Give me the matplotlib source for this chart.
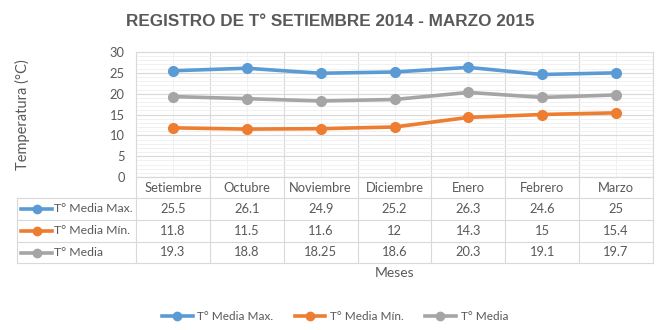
import matplotlib
matplotlib.use("Agg")
import matplotlib.pyplot as plt
from matplotlib.lines import Line2D
import matplotlib.transforms as mtransforms

months = ["Setiembre", "Octubre", "Noviembre", "Diciembre", "Enero", "Febrero", "Marzo"]
series_names = ["T° Media Max.", "T° Media Mín.", "T° Media"]
t_max = [25.5, 26.1, 24.9, 25.2, 26.3, 24.6, 25]
t_min = [11.8, 11.5, 11.6, 12, 14.3, 15, 15.4]
t_med = [19.3, 18.8, 18.25, 18.6, 20.3, 19.1, 19.7]
t_max_lbl = ["25.5", "26.1", "24.9", "25.2", "26.3", "24.6", "25"]
t_min_lbl = ["11.8", "11.5", "11.6", "12", "14.3", "15", "15.4"]
t_med_lbl = ["19.3", "18.8", "18.25", "18.6", "20.3", "19.1", "19.7"]
colors = ["#5B9BD5", "#ED7D31", "#A5A5A5"]

W, H = 671, 330
FONT = "Lato"
TXT = "#595959"
GRID = "#D9D9D9"

fig = plt.figure(figsize=(W / 100, H / 100), dpi=100)

def fx(x):
    return x / W

def fy(y):
    return 1 - y / H

L, R, T, B = 136, 653, 52, 177
ax = fig.add_axes([fx(L), fy(B), (R - L) / W, (B - T) / H])
x = list(range(len(months)))
for vals, c in zip([t_max, t_min, t_med], colors):
    ax.plot(x, vals, color=c, lw=2.6, marker="o", ms=7, zorder=3)
ax.set_xlim(-0.5, len(months) - 0.5)
ax.set_ylim(0, 30)
ax.set_yticks(range(0, 31, 5))
ax.set_yticks(range(0, 31, 1), minor=True)
ax.set_xticks([i + 0.5 for i in range(len(months) - 1)])
ax.set_xticks(x, minor=True)
ax.tick_params(axis="x", which="both", length=0, labelbottom=False)
ax.tick_params(axis="y", which="both", length=0, labelsize=9.3, labelcolor=TXT, pad=8)
for lab in ax.get_yticklabels():
    lab.set_fontfamily(FONT)
ax.grid(True, which="major", color=GRID, lw=0.8)
ax.grid(True, which="minor", axis="y", color="#EFEFEF", lw=0.6)
ax.grid(True, which="minor", axis="x", color="#EFEFEF", lw=0.6)
for s in ax.spines.values():
    s.set_color(GRID)
    s.set_linewidth(0.8)

ax.set_ylabel("Temperatura (°C)", fontsize=10.5, color=TXT, family=FONT)
ax.yaxis.set_label_coords((30 - L) / (R - L), 0.5)

fig.text(fx(330), fy(22), "REGISTRO DE T° SETIEMBRE 2014 - MARZO 2015", ha="center", va="center",
         fontsize=12.3, fontweight="bold", color=TXT, family="Liberation Sans")

# data table
bt = mtransforms.blended_transform_factory(ax.transData, fig.transFigure)
rows_y = [177, 198, 220, 242, 263]
TL = 17
fig.add_artist(Line2D([fx(L), fx(R)], [fy(rows_y[0]), fy(rows_y[0])], color=GRID, lw=0.8))
for yy in rows_y[1:]:
    fig.add_artist(Line2D([fx(TL), fx(R)], [fy(yy), fy(yy)], color=GRID, lw=0.8))
fig.add_artist(Line2D([fx(TL), fx(TL)], [fy(rows_y[1]), fy(rows_y[-1])], color=GRID, lw=0.8))
for i in range(len(months) + 1):
    xx = i - 0.5
    fig.add_artist(Line2D([xx, xx], [fy(rows_y[0]), fy(rows_y[-1])], color=GRID, lw=0.8,
                          transform=bt))
for i, m in enumerate(months):
    fig.text(i, fy((rows_y[0] + rows_y[1]) / 2), m, transform=bt, ha="center", va="center",
             fontsize=9.3, color=TXT, family=FONT)
labels = [t_max_lbl, t_min_lbl, t_med_lbl]
for r in range(3):
    yc = fy((rows_y[r + 1] + rows_y[r + 2]) / 2)
    for i, v in enumerate(labels[r]):
        fig.text(i, yc, v, transform=bt, ha="center", va="center", fontsize=9.3, color=TXT,
                 family=FONT)
    fig.add_artist(Line2D([fx(21), fx(52)], [yc, yc], color=colors[r], lw=2.6))
    fig.add_artist(Line2D([fx(37)], [yc], color=colors[r], marker="o", ms=6, lw=0))
    fig.text(fx(54), yc, series_names[r], ha="left", va="center", fontsize=8.8, color=TXT,
             family=FONT)

fig.text(fx(395), fy(273), "Meses", ha="center", va="center", fontsize=10, color=TXT, family=FONT)

handles = [Line2D([], [], color=c, lw=2.6, marker="o", ms=6) for c in colors]
leg = fig.legend(handles, series_names, loc="center", bbox_to_anchor=(fx(335), fy(317)), ncol=3,
                 frameon=False, prop={"family": FONT, "size": 8.5}, handlelength=2.6,
                 columnspacing=1.8, handletextpad=0.4)
for t in leg.get_texts():
    t.set_color(TXT)

fig.savefig("out.png", dpi=100)
